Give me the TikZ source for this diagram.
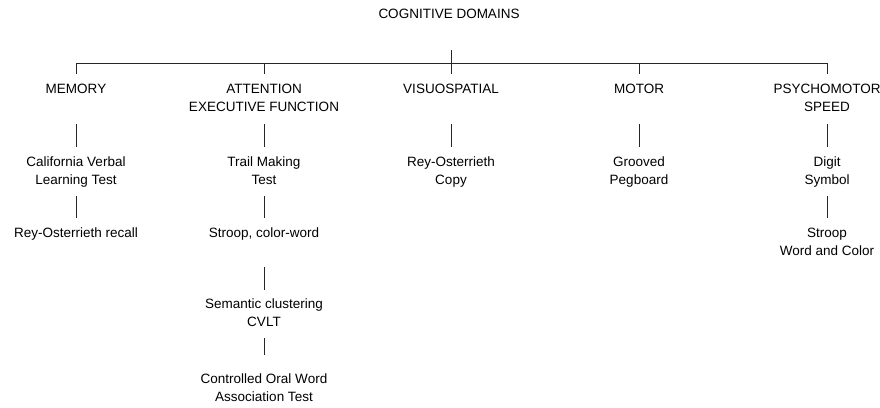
\documentclass[tikz,border=0pt]{standalone}
\usepackage{fontspec}
\setmainfont{Liberation Sans}

\begin{document}
\begin{tikzpicture}[x=1pt,y=-1pt,every node/.style={font=\fontsize{13.5}{18}\selectfont,align=center,anchor=north,inner sep=0pt},link/.style={line width=0.9pt,black!85}]
\useasboundingbox (0,0) rectangle (880,407);
\node (title) at (449,9) {COGNITIVE DOMAINS};
\node (mem) at (76,84) {MEMORY};
\node (att) at (264,84) {ATTENTION\\EXECUTIVE FUNCTION};
\node (vis) at (451,84) {VISUOSPATIAL};
\node (mot) at (639,84) {MOTOR};
\node (psy) at (827,84) {PSYCHOMOTOR\\SPEED};
\node (cvlt) at (76,157) {California Verbal\\Learning Test};
\node (tmt) at (264,157) {Trail Making\\Test};
\node (rocopy) at (451,157) {Rey-Osterrieth\\Copy};
\node (gp) at (639,157) {Grooved\\Pegboard};
\node (ds) at (827,157) {Digit\\Symbol};
\node (rorec) at (76,228) {Rey-Osterrieth recall};
\node (stroop) at (264,228) {Stroop, color-word};
\node (swc) at (827,228) {Stroop\\Word and Color};
\node (sem) at (264,299) {Semantic clustering\\CVLT};
\node (cowat) at (264,374) {Controlled Oral Word\\Association Test};
\coordinate (bar) at (0,63);
\draw[link] (mem.north |- bar) -- (psy.north |- bar);
\draw[link,shorten <=31pt] (title.south -| vis.north) -- (vis.north |- bar);
\foreach \n in {mem,att,vis,mot,psy} \draw[link] (\n.north |- bar) -- ([yshift=10pt]\n.north);
\foreach \a/\b in {mem/cvlt,att/tmt,vis/rocopy,mot/gp,psy/ds} \draw[link,shorten <=12pt,shorten >=10pt] (\a.south |- psy.south) -- (\b);
\foreach \a/\b in {cvlt/rorec,tmt/stroop,ds/swc} \draw[link,shorten <=8pt,shorten >=10pt] (\a.south |- cvlt.south) -- (\b);
\draw[link,shorten <=26pt,shorten >=9pt] (stroop) -- (sem);
\draw[link,shorten <=11pt,shorten >=19pt] (sem) -- (cowat);
\end{tikzpicture}
\end{document}
